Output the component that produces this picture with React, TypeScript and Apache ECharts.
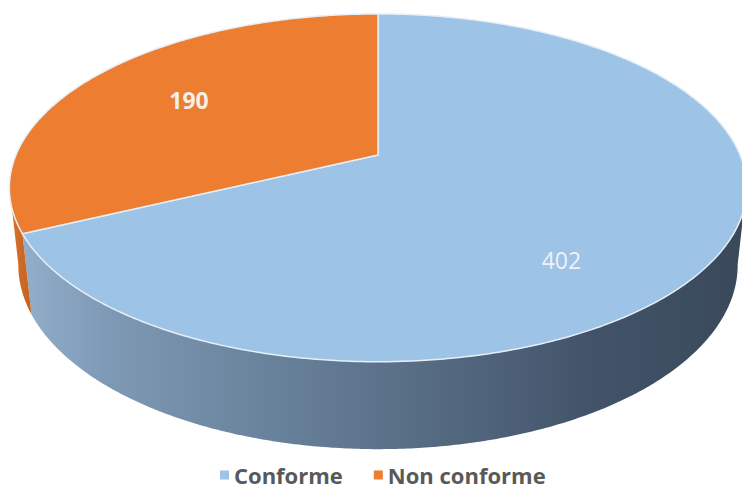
import React, { useEffect, useRef } from "react";
import * as echarts from "echarts";

// ---- data ----
const categories = ["Conforme", "Non conforme"];
const values = [402, 190];
const colors = ["#9DC3E6", "#ED7D31"];

// ---- layout (3D projection parameters) ----
const CX = 378;
const CY = 155;
const R = 362;
const PHI = (27.6 * Math.PI) / 180; // viewing elevation
const DIST = 1700; // perspective distance
const THICK = 88; // pie thickness
// label placement (angle in degrees clockwise from 12 o'clock, radius fraction)
const LABEL_ANGLE = [141, 302];
const LABEL_FRAC = [0.72, 0.656];
const LABEL_FONT = [
  { fontWeight: "normal" as const, fill: "#EEF2F6" },
  { fontWeight: "bold" as const, fill: "#F4EFEA" },
];

const total = values.reduce((a, b) => a + b, 0);
const cum: number[] = [0];
values.forEach((v, i) => cum.push(cum[i] + (v / total) * 360));

function proj(thetaDeg: number, r: number, hd: number): number[] {
  const t = (thetaDeg * Math.PI) / 180;
  const X = r * Math.sin(t);
  const V = -r * Math.cos(t);
  const down = V * Math.sin(PHI) + hd * Math.cos(PHI);
  const toward = V * Math.cos(PHI) - hd * Math.sin(PHI);
  const s = DIST / (DIST - toward);
  return [CX + s * X, CY + s * down];
}

const k = (R * Math.cos(PHI)) / DIST;
const WALL_MIN = (Math.acos(-k) * 180) / Math.PI - 0.5;
const WALL_MAX = 360 - WALL_MIN;

function arc(a0: number, a1: number, hd: number): number[][] {
  const pts: number[][] = [];
  const n = Math.max(2, Math.ceil(Math.abs(a1 - a0) / 0.5));
  for (let j = 0; j <= n; j++) {
    pts.push(proj(a0 + ((a1 - a0) * j) / n, R, hd));
  }
  return pts;
}

const wallGradients = [
  new echarts.graphic.LinearGradient(0, 0, 1, 0, [
    { offset: 0, color: "#93AECB" },
    { offset: 0.12, color: "#7E99B5" },
    { offset: 0.45, color: "#5F778F" },
    { offset: 0.78, color: "#43546A" },
    { offset: 1, color: "#39495A" },
  ]),
  new echarts.graphic.LinearGradient(0, 0, 1, 0, [
    { offset: 0, color: "#D9742E" },
    { offset: 1, color: "#C4611F" },
  ]),
];

function makeRenderItem(i: number) {
  return () => {
    const start = cum[i];
    const end = cum[i + 1];
    const children: any[] = [];
    const ws = Math.max(start, WALL_MIN);
    const we = Math.min(end, WALL_MAX);
    if (we > ws) {
      const topArc = arc(ws, we, 0);
      const botArc = arc(we, ws, THICK);
      children.push({
        type: "polygon",
        z2: 1,
        shape: { points: topArc.concat(botArc) },
        style: { fill: wallGradients[i], stroke: null },
      });
    }
    const topPts = [proj(0, 0, 0)].concat(arc(start, end, 0));
    children.push({
      type: "polygon",
      z2: 2,
      shape: { points: topPts },
      style: {
        fill: colors[i],
        stroke: "#E6EEF6",
        lineWidth: 1.5,
        lineJoin: "round",
      },
    });
    const lp = proj(LABEL_ANGLE[i], R * LABEL_FRAC[i], 0);
    children.push({
      type: "text",
      z2: 3,
      x: lp[0],
      y: lp[1],
      style: {
        text: String(values[i]),
        fill: LABEL_FONT[i].fill,
        fontSize: 23,
        fontWeight: LABEL_FONT[i].fontWeight,
        fontFamily: "'Open Sans', 'DejaVu Sans', sans-serif",
        align: "center",
        verticalAlign: "middle",
      },
    });
    return { type: "group", children };
  };
}

export default function App() {
  const ref = useRef<HTMLDivElement>(null);
  useEffect(() => {
    if (!ref.current) return;
    const chart = echarts.init(ref.current, null, { renderer: "svg" });
    chart.setOption({
      animation: false,
      backgroundColor: "#FFFFFF",
      legend: {
        top: 459,
        left: 215,
        icon: "rect",
        itemWidth: 9,
        itemHeight: 9,
        itemGap: 31,
        data: categories,
        textStyle: {
          color: "#595959",
          fontSize: 22,
          fontWeight: "bold",
          fontFamily: "'Open Sans', 'DejaVu Sans', sans-serif",
        },
      },
      series: categories.map((name, i) => ({
        type: "custom",
        name,
        coordinateSystem: "none",
        color: colors[i],
        itemStyle: { color: colors[i] },
        silent: true,
        data: [values[i]],
        renderItem: makeRenderItem(i),
      })),
    });
    return () => chart.dispose();
  }, []);
  return (
    <div
      ref={ref}
      style={{ position: "fixed", left: 0, top: 0, width: 742, height: 493 }}
    />
  );
}
